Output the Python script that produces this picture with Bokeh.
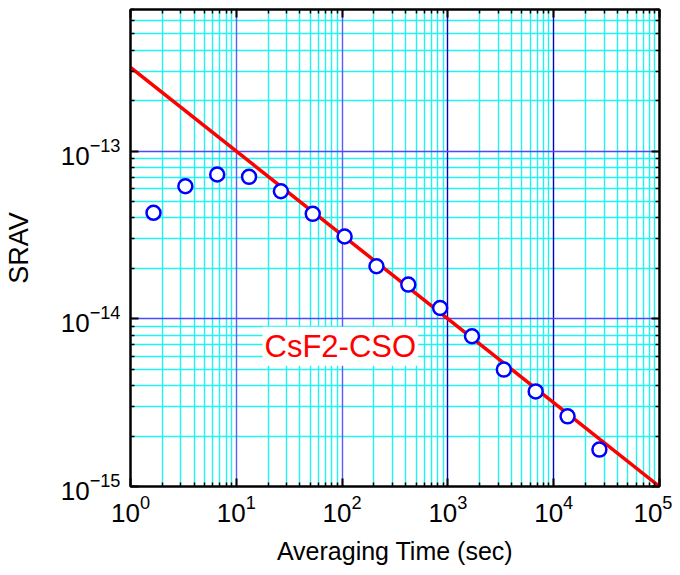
from bokeh.plotting import figure
from bokeh.models import FixedTicker, LogAxis, Grid, Label, ColumnDataSource
from bokeh.embed import file_html
from bokeh.resources import INLINE

# ---- data ----
tau = [1.65, 3.3, 6.6, 13.2, 26.4, 52.8, 105.6, 211.2, 422.4, 844.8,
       1689.6, 3379.2, 6758.4, 13516.8, 27033.6]
srav = [4.29e-14, 6.18e-14, 7.26e-14, 7.03e-14, 5.77e-14, 4.23e-14, 3.10e-14,
        2.06e-14, 1.60e-14, 1.16e-14, 7.87e-15, 4.98e-15, 3.69e-15, 2.62e-15, 1.66e-15]

fit_tau = [1.0, 1.0e5]
fit_srav = [3.16e-13, 1.0e-15]

x_major = [1, 10, 100, 1e3, 1e4, 1e5]
x_minor = [m * d for d in [1, 10, 100, 1e3, 1e4] for m in range(2, 10)]
y_major = [1e-15, 1e-14, 1e-13]
y_minor = [m * d for d in [1e-15, 1e-14] for m in range(2, 10)] + [m * 1e-13 for m in range(2, 8)]

x_major_light = [10, 100]
x_major_dark = [1e3, 1e4]

label_text = "CsF2-CSO"
label_x = 17.7
label_y = 6.86e-15

FONT = "Liberation Sans"

xt = FixedTicker(ticks=x_major, minor_ticks=x_minor)
yt = FixedTicker(ticks=y_major, minor_ticks=y_minor)

p = figure(width=672, height=567, x_axis_type="log", y_axis_type="log",
           x_range=(1, 1e5), y_range=(1e-15, 7e-13),
           output_backend="svg", toolbar_location=None,
           min_border_left=130, min_border_right=13, min_border_top=9, min_border_bottom=81)
p.background_fill_color = "white"
p.border_fill_color = "white"
p.outline_line_color = "black"
p.outline_line_width = 2

p.xgrid.visible = False
p.ygrid.visible = False

# minor (cyan) grids
gx = Grid(dimension=0, ticker=FixedTicker(ticks=[], minor_ticks=x_minor),
          grid_line_color=None, minor_grid_line_color="#22f2f2", minor_grid_line_width=1.4)
gy = Grid(dimension=1, ticker=FixedTicker(ticks=[], minor_ticks=y_minor),
          grid_line_color=None, minor_grid_line_color="#22f2f2", minor_grid_line_width=1.4)
p.add_layout(gx)
p.add_layout(gy)
# major grids
gxl = Grid(dimension=0, ticker=FixedTicker(ticks=x_major_light), grid_line_color="#5a5aff", grid_line_width=1.4)
gxd = Grid(dimension=0, ticker=FixedTicker(ticks=x_major_dark), grid_line_color="#0000c0", grid_line_width=1.4)
gy2 = Grid(dimension=1, ticker=FixedTicker(ticks=y_major), grid_line_color="#4a4aff", grid_line_width=1.4)
p.add_layout(gxl)
p.add_layout(gxd)
p.add_layout(gy2)

def style_axis(ax, labels=True):
    ax.axis_line_color = "black"
    ax.axis_line_width = 2
    ax.major_tick_in = 8
    ax.major_tick_out = 0
    ax.minor_tick_in = 4
    ax.minor_tick_out = 0
    ax.major_tick_line_color = "black"
    ax.major_tick_line_width = 2
    ax.minor_tick_line_color = "black"
    ax.minor_tick_line_width = 1.5
    ax.major_label_text_font = FONT
    ax.major_label_text_color = "black"
    ax.major_label_text_font_size = "26px"
    if not labels:
        ax.major_label_text_font_size = "1px"
        ax.major_label_text_alpha = 0
        ax.major_label_standoff = 0

xa = p.xaxis[0]
ya = p.yaxis[0]
xa.ticker = xt
ya.ticker = yt
style_axis(xa)
style_axis(ya)
xa.major_label_standoff = 8
ya.major_label_standoff = 10
xa.axis_label = "Averaging Time (sec)"
ya.axis_label = "SRAV"
xa.axis_label_text_font = FONT
ya.axis_label_text_font = FONT
xa.axis_label_text_color = "black"
ya.axis_label_text_color = "black"
xa.axis_label_text_font_style = "normal"
ya.axis_label_text_font_style = "normal"
xa.axis_label_text_font_size = "25px"
ya.axis_label_text_font_size = "27px"
xa.axis_label_standoff = 12
ya.axis_label_standoff = 24

ta = LogAxis(ticker=FixedTicker(ticks=x_major, minor_ticks=x_minor))
ra = LogAxis(ticker=FixedTicker(ticks=y_major, minor_ticks=y_minor))
style_axis(ta, labels=False)
style_axis(ra, labels=False)
p.add_layout(ta, "above")
p.add_layout(ra, "right")

src = ColumnDataSource(dict(tau=tau, srav=srav))
fit = ColumnDataSource(dict(tau=fit_tau, srav=fit_srav))
p.line("tau", "srav", source=fit, line_color="red", line_width=3.5)
p.scatter("tau", "srav", source=src, size=14, marker="circle",
          line_color="blue", line_width=2.5, fill_color="white")

lab = Label(x=label_x, y=label_y, text=label_text, text_font=FONT, text_font_size="31px",
            text_color="red", text_baseline="middle", text_align="left",
            background_fill_color="white", background_fill_alpha=1.0, padding=2)
p.add_layout(lab)

open("out.html", "w").write(file_html(p, INLINE))
